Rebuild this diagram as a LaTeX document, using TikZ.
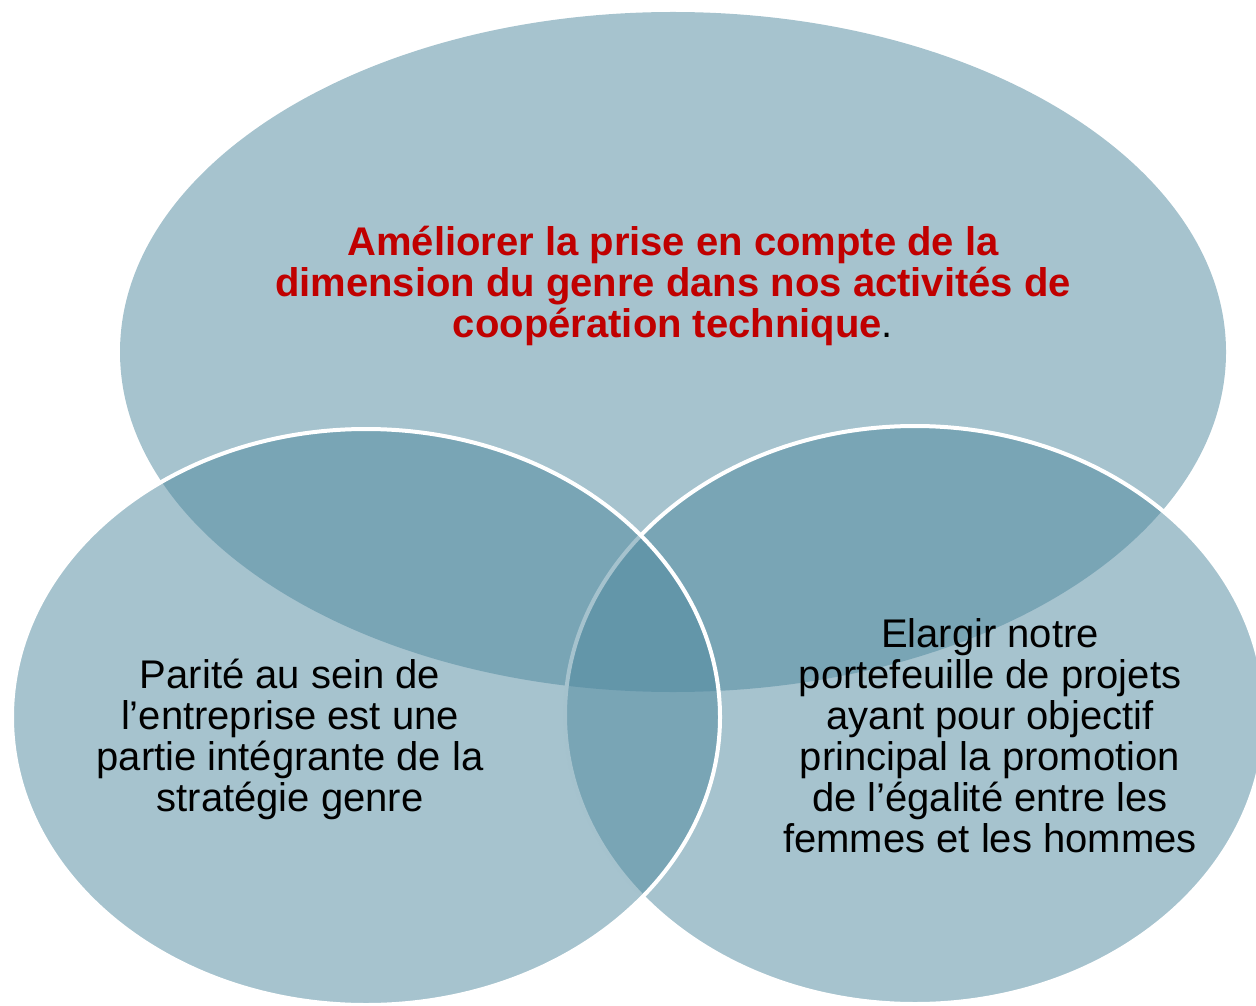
\documentclass[tikz,border=0pt]{standalone}
\usepackage{fontspec}
\setmainfont{Liberation Sans}
\usepackage{tikz}
\usetikzlibrary{shapes.geometric, positioning}
\definecolor{vennblue}{RGB}{77,135,157}
\definecolor{titlered}{RGB}{192,0,0}

\begin{document}
\begin{tikzpicture}[
    x=0.5pt, y=-0.5pt,
    vennset/.style={ellipse, inner sep=0pt, outer sep=0pt,
        fill=vennblue, fill opacity=0.5},
    rim/.style={draw=white, line width=2pt},
    venntext/.style={align=center, inner sep=0pt,
        font=\fontsize{20}{20.5}\selectfont}
]
    \useasboundingbox (0,0) rectangle (1256,1005);

    % the three sets
    \node[vennset, minimum width=553pt, minimum height=340pt] (goal) at (673,352) {};
    \node[vennset, rim, minimum width=350pt, minimum height=289pt] (projects) at (915,715) {};
    \node[vennset, rim, minimum width=354pt, minimum height=288pt] (parity) at (366,717) {};

    % texts
    \node[venntext, text=titlered, font=\fontsize{20}{20.5}\selectfont\bfseries] (goaltext) at (673,286)
        {Améliorer la prise en compte de la\\
         dimension du genre dans nos activités de\\
         coopération technique{\color{black}\mdseries.}};
    \node[venntext] (paritytext) at (290,739)
        {Parité au sein de\\
         l’entreprise est une\\
         partie intégrante de la\\
         stratégie genre};
    \node[venntext] (projectstext) at (990,736)
        {Elargir notre\\
         portefeuille de projets\\
         ayant pour objectif\\
         principal la promotion\\
         de l’égalité entre les\\
         femmes et les hommes};
\end{tikzpicture}
\end{document}
